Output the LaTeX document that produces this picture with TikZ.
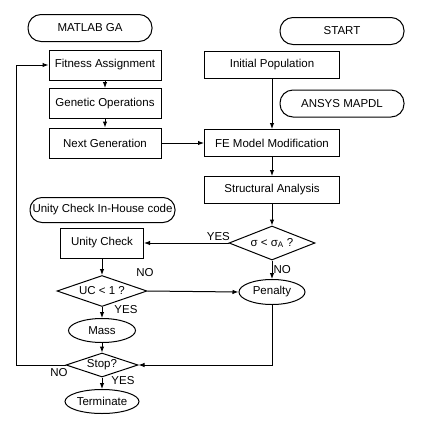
\documentclass[tikz,border=0pt]{standalone}
\usepackage{fontspec}
\setmainfont{Liberation Sans}
\usetikzlibrary{shapes.geometric,arrows.meta}
\begin{document}
\begin{tikzpicture}[x=1pt,y=-1pt,
  font=\fontsize{11.5}{13}\selectfont,
  every node/.style={inner sep=0pt},
  line/.style={draw, line width=1pt},
  arr/.style={line, -{Latex[length=6pt,width=4.5pt]}},
  procbox/.style={draw, line width=1pt, minimum width=112pt, minimum height=30pt},
  procbox2/.style={draw, line width=1pt, minimum width=135pt, minimum height=27pt},
  term/.style={draw, line width=1pt, rounded corners=13pt, minimum width=124pt, minimum height=27pt},
  decide/.style={draw, diamond, aspect=2.6, line width=1pt, inner sep=0pt},
  oval/.style={draw, ellipse, line width=1pt, inner sep=0pt},
  lbl/.style={font=\fontsize{11.5}{13}\selectfont}]
\useasboundingbox (0,0) rectangle (429,421);
\node[term] (matlab) at (90,28) {MATLAB GA};
\node[term] (start) at (342,31) {START};
\node[procbox] (fit) at (105,65) {Fitness Assignment};
\node[procbox] (gen) at (105,103.5) {Genetic Operations};
\node[procbox] (next) at (105,143) {Next Generation};
\node[procbox2] (init) at (272,65) {Initial Population};
\node[term] (ansys) at (342,103.5) {ANSYS MAPDL};
\node[procbox2] (fe) at (272,143) {FE Model Modification};
\node[procbox2] (sa) at (272,190) {Structural Analysis};
\node[term, minimum width=145pt, minimum height=25pt, rounded corners=12pt] (uchc) at (102.5,210) {Unity Check In-House code};
\node[draw, line width=1pt, minimum width=83pt, minimum height=30pt] (uc) at (102,243) {Unity Check};
\node[decide, minimum width=86pt, minimum height=34pt] (sig) at (272,243) {σ < σ\textsubscript{A} ?};
\node[oval, minimum width=66pt, minimum height=25pt] (pen) at (272,292) {Penalty};
\node[decide, minimum width=90pt, minimum height=31pt] (uc1) at (102,291) {UC < 1 ?};
\node[oval, minimum width=67pt, minimum height=24pt] (mass) at (102,330.5) {Mass};
\node[decide, minimum width=72pt, minimum height=24pt] (stop) at (102,365) {Stop?};
\node[oval, minimum width=74pt, minimum height=24pt] (term) at (102,401.5) {Terminate};
\coordinate (lc1) at (16,365);
\coordinate (lc2) at (16,65);
\coordinate (pc) at (272,365);
% connectors
\draw[arr] (fit) -- (gen);
\draw[arr] (gen) -- (next);
\draw[arr] (next) -- (fe);
\draw[arr] (init) -- (fe);
\draw[arr] (fe) -- (sa);
\draw[arr] (sa) -- (sig);
\draw[arr] (sig) -- node[pos=0.12, above=2pt, lbl] {YES} (uc);
\draw[arr] (sig) -- node[right=1pt, lbl] {NO} (pen);
\draw[arr] (uc) -- (uc1);
\draw[arr] (uc1.east) -- (pen.west);
\draw[arr] (uc1) -- (mass);
\draw[arr] (mass) -- (stop);
\draw[arr] (stop) -- (term);
\draw[arr] (pen) -- (pc) -- (stop.east);
\draw[arr] (stop.west) -- (lc1) -- (lc2) -- (fit.west);
\node[lbl] (noA) at (145,273) {NO};
\node[lbl] (yesA) at (126,310) {YES};
\node[lbl] (noB) at (59,373) {NO};
\node[lbl] (yesB) at (123,381) {YES};
\end{tikzpicture}
\end{document}
